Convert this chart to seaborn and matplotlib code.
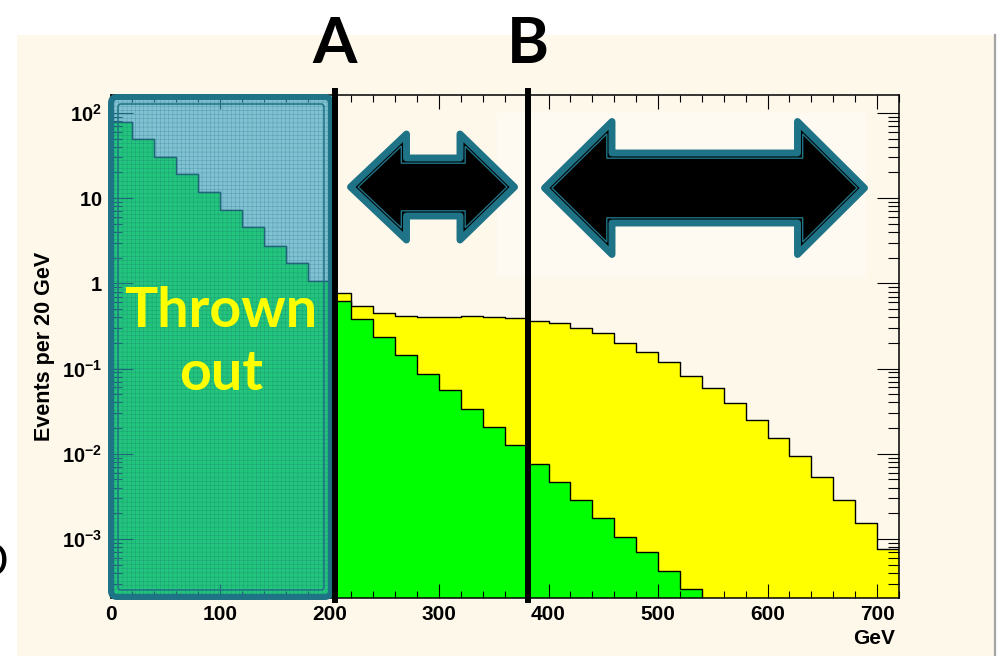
import numpy as np
import pandas as pd
import matplotlib
matplotlib.use("Agg")
import matplotlib.pyplot as plt
import seaborn as sns
from matplotlib import ticker
from matplotlib.patches import Polygon, FancyBboxPatch, Rectangle
from matplotlib.lines import Line2D
from matplotlib.transforms import Affine2D, blended_transform_factory

# ---------------- data: events per 20 GeV bin, 0-720 GeV ----------------
bin_width = 20
x_range = (0, 720)

# background (green) histogram
background = [78, 49.5, 30.5, 19.2, 11.8, 7.3, 4.6, 2.75, 1.73, 1.07,
              0.62, 0.382, 0.235, 0.1445, 0.0865, 0.0561, 0.0336, 0.0206, 0.0127, 0.0076,
              0.00467, 0.00287, 0.00176, 0.00105, 0.000703, 0.00042, 0.000259, 0, 0, 0,
              0, 0, 0, 0, 0, 0]
# signal + background (yellow) histogram
total = [78, 49.5, 30.5, 19.2, 11.8, 7.3, 4.6, 2.75, 1.73, 1.07,
         0.77, 0.543, 0.45, 0.414, 0.403, 0.403, 0.414, 0.403, 0.393, 0.362,
         0.343, 0.30, 0.262, 0.20, 0.157, 0.119, 0.0818, 0.0591, 0.0394, 0.0249,
         0.0153, 0.0094, 0.00534, 0.00287, 0.00154, 0.00076]

cut_positions = [205, 381]          # GeV
cut_names = ["A", "B"]

ytick_values = [1e-3, 1e-2, 1e-1, 1, 10, 100]
ytick_labels = [r"$\mathbf{10^{-3}}$", r"$\mathbf{10^{-2}}$", r"$\mathbf{10^{-1}}$",
                r"$\mathbf{1}$", r"$\mathbf{10}$", r"$\mathbf{10^{2}}$"]
y_range = (2.03e-4, 162)

xlabel = "GeV"
ylabel = "Events per 20 GeV"
discard_text = ["Thrown", "out"]

# ---------------- styling ----------------
plt.rcParams["font.family"] = ["Liberation Sans", "DejaVu Sans"]
plt.rcParams["mathtext.fontset"] = "custom"
plt.rcParams["mathtext.rm"] = "Liberation Sans"
plt.rcParams["mathtext.bf"] = "Liberation Sans:bold"
plt.rcParams["hatch.linewidth"] = 0.35

CREAM = "#FEF8EA"
TEAL = "#1F7386"

W, H = 1000, 656
fig = plt.figure(figsize=(W / 100, H / 100), dpi=100, facecolor="white")
# pixel coordinates, origin top-left
px = Affine2D().scale(1 / W, -1 / H).translate(0, 1) + fig.transFigure

# slide background
fig.add_artist(Rectangle((17, 35), 977, 621, transform=px, facecolor=CREAM,
                         edgecolor="none", zorder=-5))
fig.add_artist(Rectangle((497, 113), 369, 164, transform=px, facecolor="#FFFAF1",
                         edgecolor="none", zorder=-4))
fig.add_artist(Line2D([995, 995], [35, 656], transform=px, color="#A3A3A3",
                      linewidth=1.6, zorder=-3))

ax = fig.add_axes([110.5 / W, 1 - 598 / H, (899 - 110.5) / W, (598 - 95) / H])
ax.set_facecolor("none")
ax.set_yscale("log")

centers = np.arange(x_range[0], x_range[1], bin_width) + bin_width / 2
df = pd.DataFrame({"energy": centers, "total": total, "background": background})

sns.histplot(data=df, x="energy", weights="total", binwidth=bin_width,
             binrange=x_range, element="step", fill=True, color="#FFFF00",
             alpha=1, edgecolor="black", linewidth=1.0, ax=ax)
sns.histplot(data=df, x="energy", weights="background", binwidth=bin_width,
             binrange=x_range, element="step", fill=True, color="#00FF00",
             alpha=1, edgecolor="black", linewidth=1.0, ax=ax)

ax.set_xlim(*x_range)
ax.set_ylim(*y_range)

ax.xaxis.set_major_locator(ticker.MultipleLocator(100))
ax.xaxis.set_minor_locator(ticker.MultipleLocator(20))
ax.yaxis.set_major_locator(ticker.FixedLocator(ytick_values))
ax.yaxis.set_major_formatter(ticker.FixedFormatter(ytick_labels))
ax.yaxis.set_minor_locator(ticker.LogLocator(base=10, subs=np.arange(2, 10), numticks=30))
ax.yaxis.set_minor_formatter(ticker.NullFormatter())

ax.tick_params(axis="both", which="both", direction="in", top=True, right=True,
               color="black", width=0.8)
ax.tick_params(axis="x", which="major", length=10, pad=5, labelsize=15)
ax.tick_params(axis="x", which="minor", length=5)
ax.tick_params(axis="y", which="major", length=16, pad=6, labelsize=14.5)
ax.tick_params(axis="y", which="minor", length=8)
for lab in ax.get_xticklabels():
    lab.set_fontweight("bold")

for sp in ax.spines.values():
    sp.set_color("black")
    sp.set_linewidth(1.1)

ax.set_xlabel(xlabel, loc="right", fontsize=15, fontweight="bold")
ax.xaxis.set_label_coords(0.995, -0.062)
ax.set_ylabel(ylabel, fontsize=15.5, fontweight="bold")
ax.yaxis.set_label_coords(-0.0704, 0.5)

# ---------------- discarded region overlay ----------------
box = dict(boxstyle="round,pad=0,rounding_size=6", transform=px, clip_on=False)
ax.add_artist(FancyBboxPatch((111, 97), 220, 500, facecolor=(54 / 255, 163 / 255, 196 / 255, 0.63),
                             edgecolor="none", zorder=5, **box))
ax.add_artist(FancyBboxPatch((111, 97), 220, 500, facecolor="none",
                             edgecolor=(0.08, 0.35, 0.45, 0.35), linewidth=0,
                             hatch="++++", zorder=5.1, **box))
ax.add_artist(FancyBboxPatch((111, 97), 220, 500, facecolor="none", edgecolor=TEAL,
                             linewidth=4.3, zorder=5.2, **box))
ax.add_artist(FancyBboxPatch((118, 104), 206, 486, facecolor="none", edgecolor=TEAL,
                             linewidth=1.1, zorder=5.2,
                             boxstyle="round,pad=0,rounding_size=3", transform=px,
                             clip_on=False))

ax.text(221, 327, discard_text[0], transform=px, ha="center", va="baseline",
        fontsize=40, fontweight="bold", family="Lato", color="#FFFF00", zorder=8)
ax.text(221, 390, discard_text[1], transform=px, ha="center", va="baseline",
        fontsize=40, fontweight="bold", family="Lato", color="#FFFF00", zorder=8)

# ---------------- cut lines and labels ----------------
xdata_ypx = blended_transform_factory(ax.transData, px)
for xc, name in zip(cut_positions, cut_names):
    ax.axvline(xc, ymin=-0.004, ymax=1.008, color="black", linewidth=4.3,
               clip_on=False, zorder=7)
    ax.text(xc, 63, name, transform=xdata_ypx, ha="center", va="baseline",
            fontsize=46, fontweight="bold", family="Lato", color="black")


# ---------------- double arrows marking the windows ----------------
def arrow_points(xl, xr, xhl, xhr, yc, hh, sh):
    return np.array([[xl, yc], [xhl, yc - hh], [xhl, yc - sh], [xhr, yc - sh],
                     [xhr, yc - hh], [xr, yc], [xhr, yc + hh], [xhr, yc + sh],
                     [xhl, yc + sh], [xhl, yc + hh]], dtype=float)


def inset(pts, d):
    n = len(pts)
    area = 0.5 * np.sum(pts[:, 0] * np.roll(pts[:, 1], -1) - np.roll(pts[:, 0], -1) * pts[:, 1])
    sgn = 1.0 if area > 0 else -1.0
    lines = []
    for i in range(n):
        a, b = pts[i], pts[(i + 1) % n]
        u = (b - a) / np.hypot(*(b - a))
        nrm = sgn * np.array([-u[1], u[0]])
        lines.append((a + d * nrm, u))
    out = []
    for i in range(n):
        p1, u1 = lines[i - 1]
        p2, u2 = lines[i]
        den = u1[0] * u2[1] - u1[1] * u2[0]
        t = ((p2[0] - p1[0]) * u2[1] - (p2[1] - p1[1]) * u2[0]) / den
        out.append(p1 + t * u1)
    return np.array(out)


for spec in [(350.5, 514.5, 406.5, 460, 187, 53, 29),
             (544.5, 864.5, 612, 797.5, 188, 66.5, 35)]:
    pts = arrow_points(*spec)
    ax.add_artist(Polygon(pts, closed=True, transform=px, facecolor="black",
                          edgecolor=TEAL, linewidth=5.0, joinstyle="round",
                          clip_on=False, zorder=6))
    ax.add_artist(Polygon(inset(pts, 5.2), closed=True, transform=px, facecolor="none",
                          edgecolor=TEAL, linewidth=1.0, joinstyle="miter",
                          clip_on=False, zorder=6.1))

# partial glyph at the slide edge
fig.text(9, 564, "O", transform=px, ha="right", va="center", fontsize=30,
         family="DejaVu Sans", color="black")

fig.savefig("out.png", dpi=100)
